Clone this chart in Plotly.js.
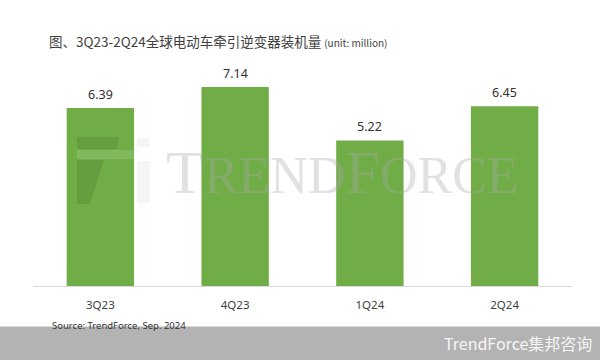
<!DOCTYPE html>
<html>
<head>
<meta charset="utf-8">
<script src="https://cdn.plot.ly/plotly-3.0.1.min.js"></script>
<style>html,body{margin:0;padding:0;background:#fff;}#chart{width:600px;height:360px;}</style>
</head>
<body>
<div id="chart"></div>
<script>
// ---- data ----
const categories = ["3Q23", "4Q23", "1Q24", "2Q24"];
const shipments = [6.39, 7.14, 5.22, 6.45];
const valueLabels = ["6.39", "7.14", "5.22", "6.45"];

// ---- layout helpers (pixel -> paper) ----
const M = {l: 33, r: 28, t: 63, b: 74};
const W = 600, H = 360;
const PW = W - M.l - M.r, PH = H - M.t - M.b;
const px = x => (x - M.l) / PW;
const py = y => (H - M.b - y) / PH;
const CJK = '"Noto Sans CJK SC", "Noto Sans", sans-serif';
const SANS = '"Noto Sans", "Liberation Sans", sans-serif';

const trace = {
  type: 'bar',
  x: categories,
  y: shipments,
  marker: {color: '#70ad47', line: {width: 0}},
  hoverinfo: 'skip'
};

const annotations = categories.map((c, i) => ({
  x: c, y: shipments[i], xref: 'x', yref: 'y',
  text: valueLabels[i], showarrow: false,
  yanchor: 'bottom', yshift: 3,
  font: {family: SANS, size: 12.5, color: '#333333'}
}));

// watermark
annotations.push({
  xref: 'paper', yref: 'paper', x: px(164), y: py(172),
  xanchor: 'left', yanchor: 'middle', showarrow: false,
  text: "T<span style='font-size:52px'>REND</span>F<span style='font-size:52px'>ORCE</span>",
  font: {family: '"Liberation Serif", "DejaVu Serif", serif', size: 62, color: 'rgba(170,170,170,0.35)'}
});
// source
annotations.push({
  xref: 'paper', yref: 'paper', x: px(50), y: py(325),
  xanchor: 'left', yanchor: 'middle', showarrow: false,
  text: 'Source: TrendForce, Sep. 2024',
  font: {family: '"Liberation Sans Narrow", "Noto Sans", sans-serif', size: 9.5, color: '#333333'}
});
// footer brand
annotations.push({
  xref: 'paper', yref: 'paper', x: px(594), y: py(343),
  xanchor: 'right', yanchor: 'middle', showarrow: false,
  text: 'TrendForce集邦咨询',
  font: {family: CJK, size: 16, color: '#f6f6f6'}
});

function poly(pts) {
  return 'M' + pts.map(p => px(p[0]) + ',' + py(p[1])).join(' L') + ' Z';
}
const shapes = [
  // footer band
  {type: 'rect', xref: 'paper', yref: 'paper', x0: px(0), x1: px(600), y0: py(326.5), y1: py(361),
   fillcolor: '#b3b3b3', line: {width: 0}, layer: 'above'},
  // logo watermark (approximate)
  {type: 'path', xref: 'paper', yref: 'paper', path: poly([[77,137],[119,137],[117,149],[77,149]]),
   fillcolor: 'rgba(40,80,20,0.16)', line: {width: 0}, layer: 'above'},
  {type: 'path', xref: 'paper', yref: 'paper', path: poly([[77,160],[104,160],[90,204],[77,204]]),
   fillcolor: 'rgba(40,80,20,0.16)', line: {width: 0}, layer: 'above'},
  {type: 'path', xref: 'paper', yref: 'paper', path: poly([[77,150],[150,150],[150,159],[77,159]]),
   fillcolor: 'rgba(255,255,255,0.12)', line: {width: 0}, layer: 'above'},
  {type: 'path', xref: 'paper', yref: 'paper', path: poly([[137,138],[150,138],[150,147],[137,147]]),
   fillcolor: 'rgba(200,200,200,0.18)', line: {width: 0}, layer: 'above'},
  {type: 'path', xref: 'paper', yref: 'paper', path: poly([[137,161],[150,161],[150,203],[137,203]]),
   fillcolor: 'rgba(200,200,200,0.18)', line: {width: 0}, layer: 'above'}
];

const layout = {
  width: W, height: H,
  margin: M,
  paper_bgcolor: '#ffffff',
  plot_bgcolor: '#ffffff',
  showlegend: false,
  bargap: 0.5,
  title: {
    text: "图、3Q23-2Q24全球电动车牵引逆变器装机量 <span style='font-size:10px'>(unit: million)</span>",
    x: 49 / W, xref: 'container', xanchor: 'left',
    y: 1 - 42 / H, yref: 'container', yanchor: 'middle',
    font: {family: CJK, size: 13.5, color: '#404040'}
  },
  xaxis: {
    type: 'category',
    range: [-0.5, 3.5],
    showgrid: false, zeroline: false,
    showline: true, linecolor: '#d9d9d9', linewidth: 1,
    ticks: 'outside', ticklen: 8, tickcolor: 'rgba(0,0,0,0)',
    tickfont: {family: SANS, size: 11.5, color: '#404040'},
    fixedrange: true
  },
  yaxis: {
    range: [0, 8],
    visible: false, showgrid: false, zeroline: false,
    fixedrange: true
  },
  annotations: annotations,
  shapes: shapes
};

Plotly.newPlot('chart', [trace], layout, {displayModeBar: false, staticPlot: true});
</script>
</body>
</html>
